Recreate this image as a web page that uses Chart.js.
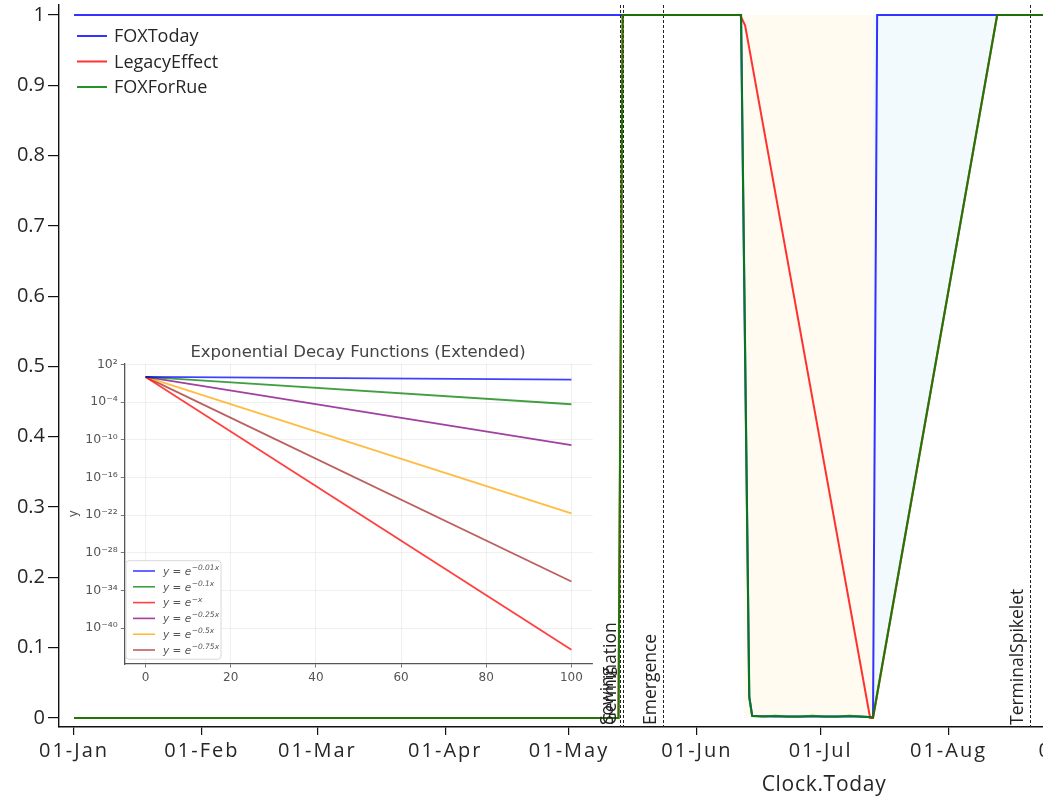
<!DOCTYPE html>
<html><head><meta charset="utf-8">
<script src="https://cdn.jsdelivr.net/npm/chart.js@4.4.0/dist/chart.umd.min.js"></script>
<style>
html,body{margin:0;padding:0;overflow:hidden;background:#fff;width:1043px;height:796px;}
#wrap{position:relative;width:1043px;height:796px;overflow:hidden;}
#main{position:absolute;left:0;top:0;}
#inset{position:absolute;left:62px;top:338px;background:#fff;}
</style></head><body>
<div id="wrap"><canvas id="main" width="1110" height="796"></canvas><canvas id="inset" width="536" height="354"></canvas></div>
<script>
// ---------- main chart data (x = days since 01-Jan) ----------
const monthTickDays = [0, 31, 59, 90, 120, 151, 181, 212, 243];
const monthTickLabels = ['01-Jan','01-Feb','01-Mar','01-Apr','01-May','01-Jun','01-Jul','01-Aug','01-Sep'];
const yTickValues = [0, 0.1, 0.2, 0.3, 0.4, 0.5, 0.6, 0.7, 0.8, 0.9, 1];
const yTickLabels = ['0','0.1','0.2','0.3','0.4','0.5','0.6','0.7','0.8','0.9','1'];

const foxTodayDays   = [0, 161.7, 163.7, 164.4, 170, 180, 190, 193.7, 194.7, 251];
const foxTodayValues = [1, 1, 0.03, 0.003, 0.002, 0.002, 0.002, 0.001, 1, 1];

const legacyDays   = [0, 132, 133, 161.5, 162.7, 193, 193.7, 223.8, 251];
const legacyValues = [0, 0, 1, 1, 0.985, 0, 0, 1, 1];

const foxForRueDays   = [0, 132, 133, 161.7, 163.7, 164.4, 167, 170, 173, 176, 179, 182, 185, 188, 191, 193.7, 223.8, 251];
const foxForRueValues = [0, 0, 1, 1, 0.03, 0.003, 0.002, 0.003, 0.002, 0.002, 0.003, 0.002, 0.002, 0.003, 0.002, 0.001, 1, 1];

const shadeDays   = [162.4, 193.7];
const shadeValues = [1, 1];
const recoveryDays  = [193.7, 223.8];
const recoveryUpper = [1, 1];
const recoveryLower = [0, 1];

const eventNames = ['Sowing', 'Germination', 'Emergence', 'TerminalSpikelet'];
const eventDays  = [132.4, 133.0, 142.7, 231.8];

// ---------- inset data ----------
const decayX = [0, 100];
const decayLabelsExp = ['\u22120.01x', '\u22120.1x', '\u2212x', '\u22120.25x', '\u22120.5x', '\u22120.75x'];
const decay001 = [1, 3.7e-1];
const decay01  = [1, 4.5e-5];
const decay1   = [1, 3.7e-44];
const decay025 = [1, 1.4e-11];
const decay05  = [1, 1.9e-22];
const decay075 = [1, 2.7e-33];
const decayColors = ['rgba(0,0,255,0.75)','rgba(0,128,0,0.75)','rgba(255,0,0,0.75)','rgba(128,0,128,0.75)','rgba(255,165,0,0.75)','rgba(165,42,42,0.75)'];
const insetXTicks = [0, 20, 40, 60, 80, 100];
const insetYTickExponents = [2, -4, -10, -16, -22, -28, -34, -40];

const pts = (xs, ys) => xs.map((x, i) => ({x: x, y: ys[i]}));

const FONT = "'Open Sans', 'Noto Sans', sans-serif";

const mainDecor = {
  id: 'mainDecor',
  beforeDraw(chart) {
    const sx = chart.scales.x;
    if (!sx._spaced) {
      const orig = sx.drawLabels.bind(sx);
      sx.drawLabels = function (area) {
        const c = this.ctx; const prev = c.letterSpacing;
        c.letterSpacing = '2px'; orig(area); c.letterSpacing = prev;
      };
      sx._spaced = true;
    }
  },
  beforeDatasetsDraw(chart) {
    const ctx = chart.ctx, a = chart.chartArea, xs = chart.scales.x;
    ctx.save();
    ctx.strokeStyle = '#222';
    ctx.lineWidth = 1;
    ctx.setLineDash([3, 2]);
    eventDays.forEach(d => {
      const px = Math.round(xs.getPixelForValue(d)) + 0.5;
      ctx.beginPath(); ctx.moveTo(px, a.top); ctx.lineTo(px, a.bottom); ctx.stroke();
    });
    ctx.restore();
  },
  afterDraw(chart) {
    const ctx = chart.ctx, a = chart.chartArea, xs = chart.scales.x;
    ctx.save();
    // event labels
    ctx.fillStyle = '#222';
    ctx.font = '17.5px ' + FONT;
    eventDays.forEach((d, i) => {
      const px = xs.getPixelForValue(d);
      ctx.save();
      ctx.translate(px - 12, a.bottom - 2);
      ctx.rotate(-Math.PI / 2);
      ctx.textAlign = 'left'; ctx.textBaseline = 'middle';
      ctx.fillText(eventNames[i], 0, 0);
      ctx.restore();
    });
    // legend
    const items = [2, 1, 0];
    ctx.font = '18px ' + FONT;
    ctx.textAlign = 'left'; ctx.textBaseline = 'middle';
    items.forEach((di, k) => {
      const ds = chart.data.datasets[di];
      const y = 36 + k * 25.5;
      ctx.strokeStyle = ds.borderColor; ctx.lineWidth = 2;
      ctx.beginPath(); ctx.moveTo(77, y); ctx.lineTo(107, y); ctx.stroke();
      ctx.fillStyle = '#262626';
      ctx.fillText(ds.label, 114, y + 1);
    });
    // x title
    ctx.font = '21px ' + FONT;
    ctx.letterSpacing = '0.7px';
    ctx.textAlign = 'center'; ctx.textBaseline = 'middle';
    ctx.fillStyle = '#262626';
    ctx.fillText('Clock.Today', 824, 785);
    ctx.restore();
  }
};

new Chart(document.getElementById('main').getContext('2d'), {
  type: 'line',
  data: {
    datasets: [
      {label: 'FOXForRue', data: pts(foxForRueDays, foxForRueValues), borderColor: 'rgba(0,128,0,0.85)', borderWidth: 2.2, pointRadius: 0, fill: false, order: 0},
      {label: 'LegacyEffect', data: pts(legacyDays, legacyValues), borderColor: 'rgba(255,0,0,0.8)', borderWidth: 2, pointRadius: 0, fill: false, order: 1},
      {label: 'FOXToday', data: pts(foxTodayDays, foxTodayValues), borderColor: 'rgba(0,0,255,0.8)', borderWidth: 2, pointRadius: 0, fill: false, order: 2},
      {label: 'shade', data: pts(shadeDays, shadeValues), borderWidth: 0, borderColor: 'rgba(0,0,0,0)', backgroundColor: 'rgba(255,235,190,0.22)', pointRadius: 0, fill: 'origin', order: 5},
      {label: 'recoveryUpper', data: pts(recoveryDays, recoveryUpper), borderWidth: 0, borderColor: 'rgba(0,0,0,0)', backgroundColor: 'rgba(180,225,240,0.16)', pointRadius: 0, fill: '+1', order: 4},
      {label: 'recoveryLower', data: pts(recoveryDays, recoveryLower), borderWidth: 0, borderColor: 'rgba(0,0,0,0)', pointRadius: 0, fill: false, order: 6}
    ]
  },
  options: {
    responsive: false, animation: false,
    layout: {padding: {top: 5, left: 0, right: 0, bottom: 0}},
    plugins: {legend: {display: false}, tooltip: {enabled: false}},
    scales: {
      x: {
        type: 'linear', min: -3.64, max: 251.15,
        afterBuildTicks: ax => { ax.ticks = monthTickDays.map(v => ({value: v})); },
        afterFit: s => { s.height = 69; s.paddingLeft = 0; s.paddingRight = 0; },
        grid: {drawOnChartArea: false, drawTicks: true, tickLength: 8, tickColor: '#111', lineWidth: 1.2},
        border: {display: true, color: '#111', width: 1.4},
        ticks: {autoSkip: false, maxRotation: 0, padding: 4, color: '#262626', font: {family: FONT, size: 20},
                callback: (v, i) => monthTickLabels[i]}
      },
      y: {
        type: 'linear', min: -0.0128, max: 1.0142,
        afterBuildTicks: ax => { ax.ticks = yTickValues.map(v => ({value: v})); },
        afterFit: s => { s.width = 59; s.paddingTop = 0; s.paddingBottom = 0; },
        grid: {drawOnChartArea: false, drawTicks: true, tickLength: 11, tickColor: '#111', lineWidth: 1.2},
        border: {display: true, color: '#111', width: 1.4},
        ticks: {padding: 3, color: '#262626', font: {family: FONT, size: 20},
                callback: (v, i) => yTickLabels[i]}
      }
    }
  },
  plugins: [mainDecor]
});

// ---------- inset ----------
const SUP = {'0':'\u2070','1':'\u00b9','2':'\u00b2','3':'\u00b3','4':'\u2074','5':'\u2075','6':'\u2076','7':'\u2077','8':'\u2078','9':'\u2079','-':'\u207b'};
const supStr = n => String(n).split('').map(c => SUP[c]).join('');
const IFONT = "'DejaVu Sans', sans-serif";

const insetDecor = {
  id: 'insetDecor',
  afterDraw(chart) {
    const ctx = chart.ctx;
    ctx.save();
    ctx.fillStyle = '#444';
    ctx.font = '16.5px ' + IFONT;
    ctx.textAlign = 'center'; ctx.textBaseline = 'middle';
    ctx.fillText('Exponential Decay Functions (Extended)', 296, 15);
    // legend box
    const bx = 64, by = 222.7, bw = 95, bh = 98.5;
    ctx.beginPath();
    ctx.roundRect(bx, by, bw, bh, 3);
    ctx.fillStyle = 'rgba(255,255,255,0.85)'; ctx.fill();
    ctx.strokeStyle = '#d8d8d8'; ctx.lineWidth = 1; ctx.stroke();
    chart.data.datasets.forEach((ds, i) => {
      const y = 233 + i * 15.8;
      ctx.strokeStyle = ds.borderColor; ctx.lineWidth = 1.6;
      ctx.beginPath(); ctx.moveTo(71, y); ctx.lineTo(93, y); ctx.stroke();
      ctx.fillStyle = '#555';
      ctx.textAlign = 'left'; ctx.textBaseline = 'middle';
      ctx.font = 'italic 10.5px ' + IFONT;
      const base = 'y = e';
      ctx.fillText(base, 101, y + 1);
      const w = ctx.measureText(base).width;
      ctx.font = 'italic 7.5px ' + IFONT;
      ctx.fillText(decayLabelsExp[i], 101 + w + 0.5, y - 3);
    });
    ctx.restore();
  }
};

const decaySeries = [decay001, decay01, decay1, decay025, decay05, decay075];
new Chart(document.getElementById('inset').getContext('2d'), {
  type: 'line',
  data: {
    datasets: decaySeries.map((s, i) => ({
      label: decayLabelsExp[i], data: pts(decayX, s), borderColor: decayColors[i],
      borderWidth: 1.8, pointRadius: 0, fill: false
    }))
  },
  options: {
    responsive: false, animation: false,
    layout: {padding: {top: 25.3, right: 5.3, left: 0, bottom: 0}},
    plugins: {legend: {display: false}, tooltip: {enabled: false}},
    scales: {
      x: {
        type: 'linear', min: -5, max: 105,
        afterBuildTicks: ax => { ax.ticks = insetXTicks.map(v => ({value: v})); },
        afterFit: s => { s.height = 28; s.paddingLeft = 0; s.paddingRight = 0; },
        grid: {color: '#ebebeb', lineWidth: 0.8, tickLength: 3.5, tickColor: '#555'},
        border: {color: '#555', width: 1.3},
        ticks: {autoSkip: false, maxRotation: 0, padding: 3, color: '#555', font: {family: IFONT, size: 12},
                callback: (v, i) => String(insetXTicks[i])}
      },
      y: {
        type: 'logarithmic', min: Math.pow(10, -45.7), max: Math.pow(10, 2.17),
        afterBuildTicks: ax => { ax.ticks = insetYTickExponents.map(e => ({value: Math.pow(10, e)})); },
        afterFit: s => { s.width = 62.3; s.paddingTop = 0; s.paddingBottom = 0; },
        grid: {color: '#ebebeb', lineWidth: 0.8, tickLength: 3.5, tickColor: '#555'},
        border: {color: '#555', width: 1.3},
        title: {display: true, text: 'y', color: '#555', font: {family: IFONT, size: 12}, padding: {top: 5, bottom: 0}},
        ticks: {padding: 3, color: '#555', font: {family: IFONT, size: 12.5},
                callback: (v, i) => '10' + supStr(insetYTickExponents[i])}
      }
    }
  },
  plugins: [insetDecor]
});
</script>
</body></html>
